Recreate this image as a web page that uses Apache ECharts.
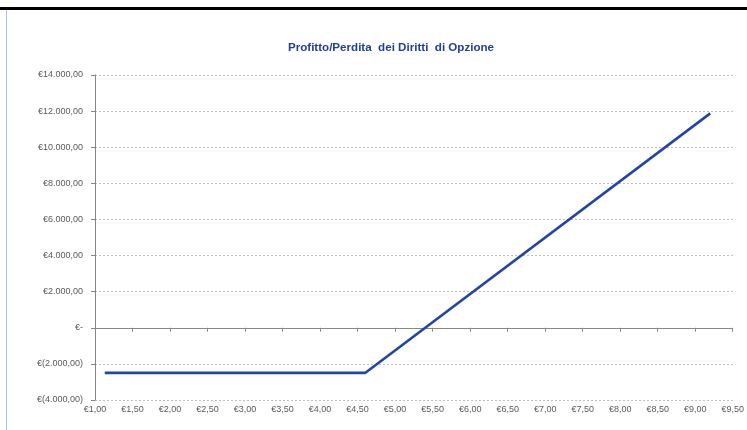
<!DOCTYPE html>
<html><head><meta charset="utf-8">
<script src="https://cdn.jsdelivr.net/npm/echarts@6/dist/echarts.min.js"></script>
<style>html,body{margin:0;padding:0;background:#fff}#c{width:747px;height:430px}</style>
</head><body><div id="c"></div>
<script>
var priceX = [1.13, 4.60, 9.20];
var profitY = [-2500, -2500, 11875];
var xTicks = [1.0, 9.5, 0.5];
var yTicks = [-4000, 14000, 2000];
var titleText = 'Profitto/Perdita  dei Diritti  di Opzione';

function fmtNum(v, dec) {
  var s = Math.abs(v).toFixed(dec).split('.');
  var i = s[0].replace(/\B(?=(\d{3})+(?!\d))/g, '.');
  return dec ? i + ',' + s[1] : i;
}
function fmtY(v) {
  if (v === 0) return '€-';
  if (v < 0) return '€(' + fmtNum(v, 2) + ')';
  return '€' + fmtNum(v, 2);
}
var data = priceX.map(function (x, i) { return [x, profitY[i]]; });
var lbl = {color: '#595959', fontFamily: 'Liberation Sans', fontSize: 9};
var chart = echarts.init(document.getElementById('c'));
chart.setOption({
  animation: false,
  title: {text: titleText, left: 386, top: 37, textAlign: 'center',
    textStyle: {fontFamily: 'Liberation Sans', fontSize: 11.6, fontWeight: 'bold', color: '#1F3F99'}},
  grid: {left: 95, right: 12, top: 75, bottom: 30},
  xAxis: [{
    type: 'value', min: xTicks[0], max: xTicks[1], interval: xTicks[2],
    axisLine: {show: false, onZero: false}, axisTick: {show: false}, splitLine: {show: false},
    axisLabel: Object.assign({margin: 5, formatter: function (v) { return '€' + fmtNum(v, 2); }}, lbl)
  }, {
    type: 'value', min: xTicks[0], max: xTicks[1], interval: xTicks[2], position: 'bottom',
    axisLine: {show: true, onZero: true, onZeroAxisIndex: 0, lineStyle: {color: '#868686', width: 1}},
    axisTick: {show: true, length: 4, lineStyle: {color: '#868686'}},
    axisLabel: {show: false}, splitLine: {show: false}
  }],
  yAxis: {
    type: 'value', min: yTicks[0], max: yTicks[1], interval: yTicks[2],
    axisLine: {show: true, onZero: false, lineStyle: {color: '#868686', width: 1}},
    axisTick: {show: true, length: 4, lineStyle: {color: '#868686'}},
    axisLabel: Object.assign({margin: 12, formatter: fmtY}, lbl),
    splitLine: {show: true, lineStyle: {color: '#BFBFBF', type: [2, 2], width: 1}}
  },
  series: [{
    type: 'line', data: data, xAxisIndex: 0, showSymbol: false, symbol: 'none',
    lineStyle: {color: '#2346A0', width: 2.6}
  }],
  graphic: [
    {type: 'rect', shape: {x: 0, y: 7, width: 747, height: 3}, style: {fill: '#000'}},
    {type: 'rect', shape: {x: 6, y: 10, width: 1, height: 420}, style: {fill: '#A9C4E6'}}
  ]
});
</script></body></html>
